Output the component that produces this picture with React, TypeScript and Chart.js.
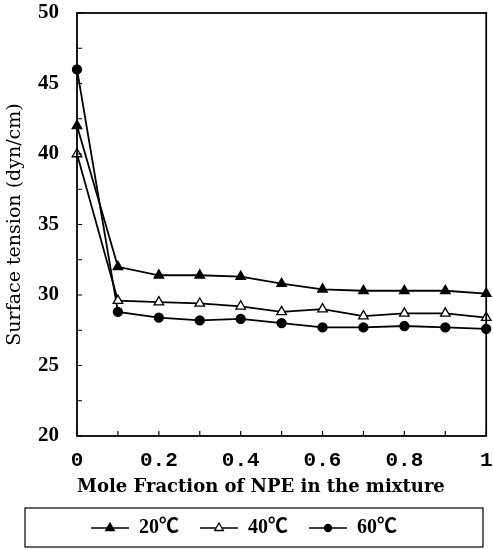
import React, { useEffect, useRef } from 'react';
import { Chart, registerables } from 'chart.js';

Chart.register(...registerables);

const xValues = [0, 0.1, 0.2, 0.3, 0.4, 0.5, 0.6, 0.7, 0.8, 0.9, 1];
const t20 = [42, 32, 31.4, 31.4, 31.3, 30.8, 30.4, 30.3, 30.3, 30.3, 30.1];
const t40 = [40, 29.6, 29.5, 29.4, 29.2, 28.8, 29.0, 28.5, 28.7, 28.7, 28.4];
const t60 = [46, 28.8, 28.4, 28.2, 28.3, 28.0, 27.7, 27.7, 27.8, 27.7, 27.6];
const seriesLabels = ['20℃', '40℃', '60℃'];
const xTickLabels = ['0', '0.2', '0.4', '0.6', '0.8', '1'];
const yTickLabels = ['20', '25', '30', '35', '40', '45', '50'];

function makeIcon(shape: string, fill: string) {
  const c = document.createElement('canvas');
  c.width = 38;
  c.height = 14;
  const ctx = c.getContext('2d')!;
  ctx.strokeStyle = '#000';
  ctx.lineWidth = 1.6;
  ctx.beginPath();
  ctx.moveTo(0, 7);
  ctx.lineTo(38, 7);
  ctx.stroke();
  ctx.fillStyle = fill;
  ctx.beginPath();
  if (shape === 'triangle') {
    const r = 5;
    ctx.moveTo(19, 7 - r);
    ctx.lineTo(19 + r * 0.866, 7 + r * 0.5);
    ctx.lineTo(19 - r * 0.866, 7 + r * 0.5);
    ctx.closePath();
  } else {
    ctx.arc(19, 7, 3.5, 0, Math.PI * 2);
  }
  ctx.fill();
  ctx.lineWidth = 1.3;
  ctx.stroke();
  return c;
}

const framePlugin = {
  id: 'frame',
  afterDraw(chart: any) {
    const { ctx, chartArea: a, scales } = chart;
    const x = scales.x;
    const y = scales.y;
    ctx.save();
    ctx.strokeStyle = '#000';
    ctx.lineWidth = 1.8;
    ctx.strokeRect(a.left, a.top, a.right - a.left, a.bottom - a.top);
    ctx.lineWidth = 1.2;
    ctx.beginPath();
    x.ticks.forEach((t: any) => {
      const px = x.getPixelForValue(t.value);
      ctx.moveTo(px, a.bottom);
      ctx.lineTo(px, a.bottom - 5);
    });
    y.ticks.forEach((t: any) => {
      const py = y.getPixelForValue(t.value);
      ctx.moveTo(a.left, py);
      ctx.lineTo(a.left + 5, py);
    });
    ctx.stroke();
    const lg = chart.legend;
    if (lg) {
      ctx.lineWidth = 1.2;
      ctx.strokeRect(25, lg.top + 11, 458, 39);
    }
    ctx.restore();
  },
};

export default function App() {
  const ref = useRef<HTMLCanvasElement>(null);
  useEffect(() => {
    if (!ref.current) return;
    const icons = [makeIcon('triangle', '#000'), makeIcon('triangle', '#fff'), makeIcon('circle', '#000')];
    const mk = (label: string, data: number[], style: string, bg: string) => ({
      label,
      data: xValues.map((x, i) => ({ x, y: data[i] })),
      borderColor: '#000',
      borderWidth: 1.8,
      pointStyle: style,
      pointRadius: style === 'triangle' ? 5.5 : 4.5,
      pointBackgroundColor: bg,
      pointBorderColor: '#000',
      pointBorderWidth: 1.3,
      tension: 0,
      clip: false as any,
    });
    const chart = new Chart(ref.current, {
      type: 'line',
      data: {
        datasets: [
          mk(seriesLabels[0], t20, 'triangle', '#000'),
          mk(seriesLabels[1], t40, 'triangle', '#fff'),
          mk(seriesLabels[2], t60, 'circle', '#000'),
        ],
      },
      options: {
        responsive: false,
        animation: false,
        layout: { padding: { top: 13, right: 5, left: 0, bottom: 1 } },
        plugins: {
          tooltip: { enabled: false },
          legend: {
            position: 'bottom',
            labels: {
              usePointStyle: true,
              pointStyleWidth: 38,
              boxHeight: 14,
              padding: 21,
              color: '#000',
              font: { family: "'Liberation Serif', 'Noto Sans CJK SC', serif", size: 20, weight: 'bold' },
              generateLabels: (ch: any) =>
                ch.data.datasets.map((ds: any, i: number) => ({
                  text: ds.label,
                  pointStyle: icons[i],
                  fillStyle: '#000',
                  strokeStyle: '#000',
                  lineWidth: 0,
                  hidden: false,
                  datasetIndex: i,
                  fontColor: '#000',
                })),
            },
          },
        },
        scales: {
          x: {
            type: 'linear',
            min: 0,
            max: 1,
            afterFit: (s: any) => {
              s.height = 61;
              s.paddingLeft = 0;
              s.paddingRight = 0;
            },
            grid: { display: false },
            border: { display: false },
            ticks: {
              stepSize: 0.1,
              autoSkip: false,
              maxRotation: 0,
              padding: 4,
              color: '#000',
              font: { family: "'Liberation Mono', monospace", size: 21, weight: 'bold' },
              callback: (v: any) => {
                const n = Math.round(Number(v) * 10);
                return n % 2 === 0 ? xTickLabels[n / 2] : '';
              },
            },
            title: {
              display: true,
              text: 'Mole Fraction of NPE in the mixture',
              align: 'start',
              color: '#000',
              padding: { top: 0, bottom: -1 },
              font: { family: "'DejaVu Serif', serif", size: 18, weight: 'bold' },
            },
          },
          y: {
            type: 'linear',
            min: 20,
            max: 50,
            afterFit: (s: any) => {
              s.width = 77;
              s.paddingTop = 0;
              s.paddingBottom = 0;
            },
            grid: { display: false },
            border: { display: false },
            ticks: {
              stepSize: 2.5,
              autoSkip: false,
              padding: 10,
              color: '#000',
              font: { family: "'Liberation Serif', serif", size: 21, weight: 'bold' },
              callback: (v: any) => {
                const n = Math.round(Number(v) * 2);
                return n % 10 === 0 ? yTickLabels[(n - 40) / 10] : '';
              },
            },
            title: {
              display: true,
              text: 'Surface tension (dyn/cm)',
              color: '#000',
              padding: { top: 4, bottom: 0 },
              font: { family: "'DejaVu Serif', serif", size: 19, weight: 'normal' },
            },
          },
        },
      },
      plugins: [framePlugin],
    });
    return () => chart.destroy();
  }, []);
  return (
    <div style={{ position: 'absolute', left: 0, top: 0, width: 493, height: 549, background: '#fff' }}>
      <canvas ref={ref} width={493} height={549} style={{ display: 'block' }} />
    </div>
  );
}
